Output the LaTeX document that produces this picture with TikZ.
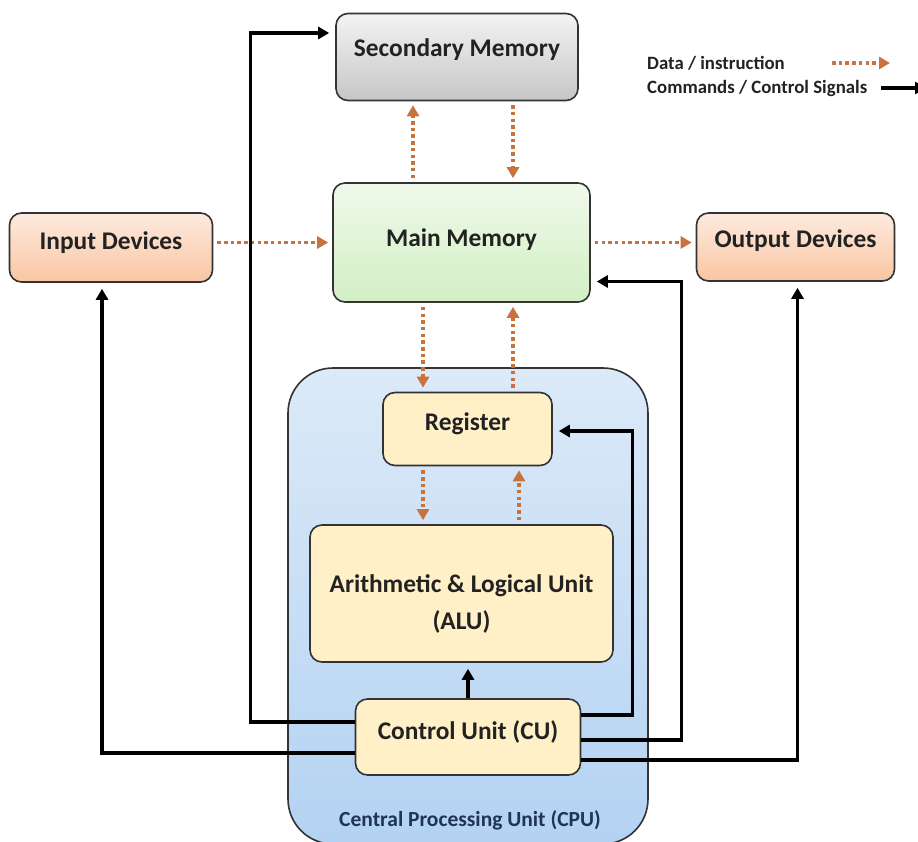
\documentclass[tikz,border=0pt]{standalone}
\usepackage{fontspec}
\setmainfont{Carlito}
\usetikzlibrary{arrows.meta,calc}
\definecolor{edgec}{HTML}{333333}
\definecolor{datac}{HTML}{C8723D}
\definecolor{txtc}{HTML}{222222}
\definecolor{cpuc}{HTML}{1F3556}
\definecolor{cputop}{HTML}{DCEAF8}
\definecolor{cpubot}{HTML}{B3D2F2}
\definecolor{memtop}{HTML}{F0F9EB}
\definecolor{membot}{HTML}{D2EFC4}
\definecolor{iotop}{HTML}{FDEADF}
\definecolor{iobot}{HTML}{F9C6A2}
\definecolor{sectop}{HTML}{F3F3F3}
\definecolor{secbot}{HTML}{C6C6C6}
\definecolor{unitc}{HTML}{FFF0C8}
\tikzset{
  box/.style={draw=edgec, line width=1.6pt, rounded corners=12pt, inner sep=0pt},
  lbl/.style={text=txtc, font=\fontsize{25.4}{37}\selectfont\bfseries, align=center},
  legend/.style={text=txtc, font=\fontsize{18.8}{22}\selectfont\bfseries, anchor=west, inner sep=0pt},
  data/.style={datac, line width=3.5pt, dash pattern=on 3.5pt off 3.2pt, -{Triangle[length=11pt,width=12pt]}, shorten >=4pt, shorten <=4pt},
  cmd/.style={black, line width=3.5pt, -{Triangle[length=11pt,width=12pt]}, shorten >=6pt},
}
\begin{document}
\begin{tikzpicture}[x=1pt,y=-1pt]
\useasboundingbox (0,0) rectangle (918,842);
% CPU container
\node[draw=edgec, line width=1.6pt, rounded corners=45pt, top color=cputop, bottom color=cpubot, minimum width=360pt, minimum height=476pt] (cpu) at (468,606) {};
\node[text=cpuc, font=\fontsize{21.5}{24}\selectfont\bfseries] (cpulbl) at (470,820) {Central Processing Unit (CPU)};
% boxes
\node[box, top color=sectop, bottom color=secbot, minimum width=242pt, minimum height=87pt,
  label={[lbl,yshift=7pt]center:Secondary Memory}] (sec) at (457,57) {};
\node[box, top color=memtop, bottom color=membot, minimum width=257pt, minimum height=119pt,
  label={[lbl,yshift=3pt]center:Main Memory}] (main) at (461.5,242.5) {};
\node[box, top color=iotop, bottom color=iobot, minimum width=203pt, minimum height=69pt,
  label={[lbl,yshift=5pt]center:Input Devices}] (in) at (111,247.5) {};
\node[box, top color=iotop, bottom color=iobot, minimum width=198pt, minimum height=68pt,
  label={[lbl,yshift=6pt]center:Output Devices}] (out) at (795.5,247) {};
\node[box, fill=unitc, minimum width=169pt, minimum height=73pt,
  label={[lbl,yshift=5pt]center:Register}] (reg) at (467.5,429) {};
\node[box, fill=unitc, minimum width=303pt, minimum height=137pt,
  label={[lbl,yshift=-10pt]center:Arithmetic \& Logical Unit\\(ALU)}] (alu) at (461.5,593.5) {};
\node[box, fill=unitc, minimum width=225pt, minimum height=76pt,
  label={[lbl,yshift=5pt]center:Control Unit (CU)}] (cu) at (468,737) {};
% data arrows
\draw[data] ([xshift=-48.5]main.north) -- ([xshift=-48.5]main.north |- sec.south);
\draw[data] ([xshift=56]sec.south) -- ([xshift=56]sec.south |- main.north);
\draw[data] (main.west -| in.east) -- (main.west);
\draw[data] (main.east) -- (main.east -| out.west);
\draw[data] ([xshift=-44.5]reg.north |- main.south) -- ([xshift=-44.5]reg.north);
\draw[data] ([xshift=45.5]reg.north) -- ([xshift=45.5]reg.north |- main.south);
\draw[data] ([xshift=-44.5]reg.south) -- ([xshift=-44.5]reg.south |- alu.north);
\draw[data] ([xshift=51.5]reg.south |- alu.north) -- ([xshift=51.5]reg.south);
% command arrows
\draw[cmd] ([yshift=15]cu.west) -- ++(-104,0) |- ([yshift=24]sec.west);
\draw[cmd] ([yshift=-16]cu.west) -| ([xshift=-9]in.south);
\draw[cmd] (cu.north) -- (cu.north |- alu.south);
\draw[cmd] ([yshift=22]cu.east) -- ++(51,0) |- ([yshift=-2]reg.east);
\draw[cmd] ([yshift=-3]cu.east) -- ++(100,0) |- ([yshift=-39]main.east);
\draw[cmd] ([yshift=-23]cu.east) -| ([xshift=2]out.south);
% legend
\node[legend] (l1) at (647,63) {Data / instruction};
\node[legend] (l2) at (647,88) {Commands / Control Signals};
\coordinate (d1) at (832,63);
\coordinate (d2) at (890,63);
\coordinate (c1) at (881,88);
\coordinate (c2) at (926,88);
\draw[data, shorten <=0pt, shorten >=0pt] (d1) -- (d2);
\draw[cmd, shorten >=0pt] (c1) -- (c2);
\end{tikzpicture}
\end{document}
